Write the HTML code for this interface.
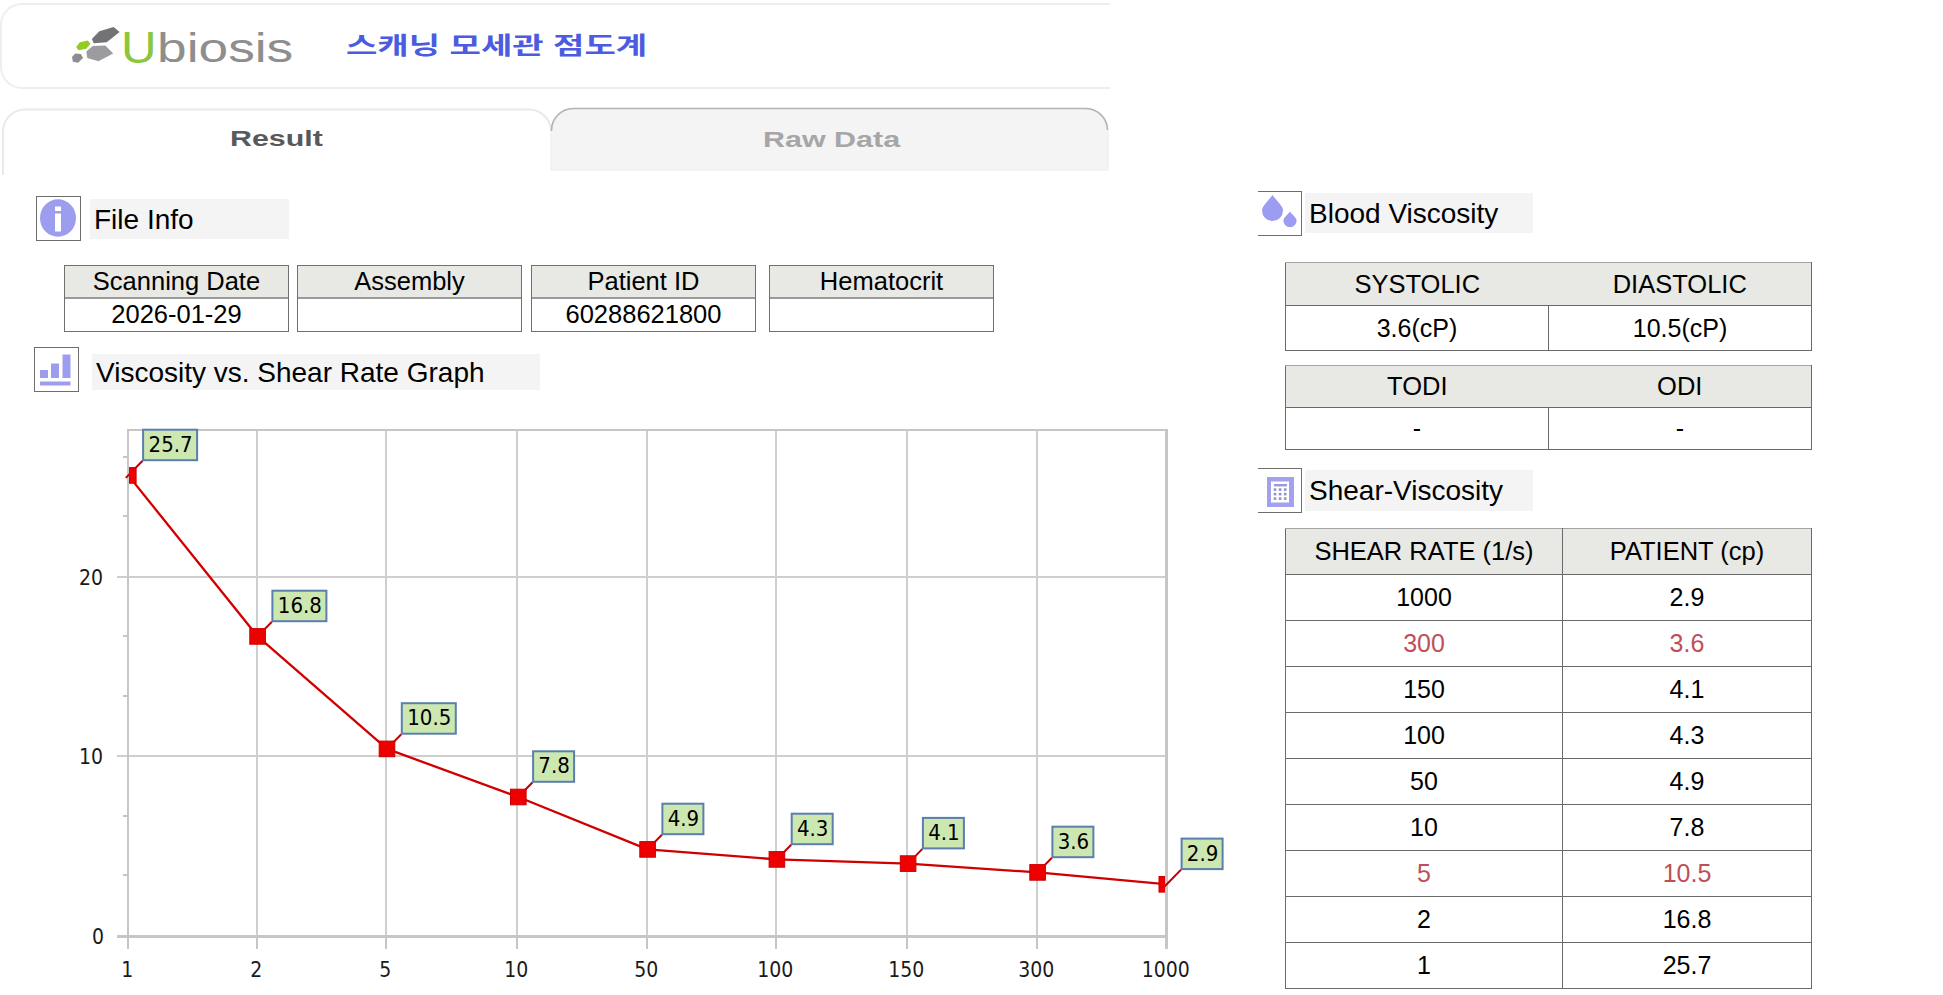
<!DOCTYPE html>
<html><head><meta charset="utf-8">
<style>
*{margin:0;padding:0;box-sizing:border-box}
html,body{width:1943px;height:995px;background:#fff;overflow:hidden}
body{position:relative;font-family:"Liberation Sans",Arial,sans-serif;color:#000}
.abs{position:absolute}
.hdrclip{position:absolute;left:0;top:0;width:1110px;height:175px;overflow:hidden}
.hbox{position:absolute;left:0;top:3px;width:1160px;height:86px;border:2px solid #eeeeee;border-radius:22px;background:#fff}
.tab1{position:absolute;left:3px;top:109px;width:549px;height:80px;border:2px solid #efefef;border-radius:22px 22px 0 0;background:#fff}
.tab2{position:absolute;left:551px;top:108px;width:557px;height:62px;border:2px solid #bdbdbd;border-bottom:none;border-radius:22px 22px 0 0;background:#f5f5f5}
.tab2fade{position:absolute;left:551px;top:126px;width:557px;height:46px;background:linear-gradient(to bottom,rgba(245,245,245,0),#f5f5f5 18px)}
.htxt{position:absolute;white-space:nowrap;transform-origin:0 0}
.ibox{position:absolute;width:45px;height:45px;border:1px solid #6e6e6e;background:transparent}
.lbl{position:absolute;background:#f4f4f4;font-size:28px;white-space:nowrap}
.lbl span{position:absolute;left:5px}
.ft{position:absolute;top:265px;height:67px;width:225px;border:1px solid #707070;font-size:25.5px;text-align:center}
.ft .h{height:33px;background:#e8e8e4;border-bottom:2px solid #9a9a9a;line-height:30px}
.ft .d{height:32px;line-height:31px}
table{border-collapse:collapse;position:absolute;font-size:25px;table-layout:fixed}
td{text-align:center;border:1px solid #6a6a6a;padding:0;white-space:nowrap}
th{font-size:25.5px;font-weight:400;background:#e8e8e4;border:1px solid #6a6a6a;border-top-color:#a5a5a5;padding:0}
.red{color:#be4f58}
.nd th:first-child{border-right:none}.nd th:last-child{border-left:none}
.ax{font-family:"DejaVu Sans",sans-serif;font-stretch:condensed;font-size:21px;fill:#1a1a1a}
.dl{font-family:"DejaVu Sans",sans-serif;font-stretch:condensed;font-size:22px;fill:#000}
</style></head><body>

<!-- HEADER -->
<div class="hdrclip">
  <div class="hbox"></div>
  <svg class="abs" style="left:0;top:0" width="1110" height="175" viewBox="0 0 1110 175">
    <polygon points="91.9,39.1 99.3,31.2 113.6,27.1 119.6,31.9 106.7,42.3 93.7,43.3" fill="#737377"/>
    <polygon points="86.3,51.6 92.8,46 105.3,45.6 113.2,53.4 98.4,61.3 87.3,58.1" fill="#9c9ca0"/>
    <polygon points="76.2,47 79.9,42.3 87.7,40.5 90.5,43.7 86.3,48.8 78.5,50.2" fill="#93cb24"/>
    <polygon points="72,57.1 75.2,53.4 80.8,53.9 83.1,58.1 78,62.7 72.9,61.8" fill="#8d8d90"/>
    <path d="M3,176 L3,131 A22,22 0 0 1 25,109.5 L529,109.5 A22,22 0 0 1 551,131" fill="#fff" stroke="#e9e9e9" stroke-width="2"/>
    <path d="M551,170 L551,130 A22,22 0 0 1 573,108.5 L1086,108.5 A22,22 0 0 1 1108,130 L1108,170 Z" fill="#f4f4f4" stroke="#ececec" stroke-width="1"/>
    <path d="M551.5,131 A22,22 0 0 1 573,108.5 L1086,108.5 A22,22 0 0 1 1107.5,130" fill="none" stroke="#b3b3b3" stroke-width="1.6"/>
  </svg>
  <div class="htxt" style="left:121px;top:22.5px;font-size:44px;color:#8cc63f;line-height:50px;transform:scaleX(1.12)">U</div>
  <div class="htxt" style="left:157px;top:24px;font-size:41px;color:#8e8e8e;line-height:48px;transform:scaleX(1.30)">biosis</div>
  <div class="htxt" style="left:346px;top:26px;font-size:24px;font-weight:700;color:#4b5ce0;font-family:'Liberation Sans','Noto Sans CJK KR',sans-serif;transform:scaleX(1.42);line-height:40px">스캐닝 모세관 점도계</div>
  <div class="htxt" style="left:230px;top:126px;font-size:22px;font-weight:700;color:#595959;transform:scaleX(1.38)">Result</div>
  <div class="htxt" style="left:763px;top:126.5px;font-size:22px;font-weight:700;color:#a6a6a6;transform:scaleX(1.385)">Raw Data</div>
</div>

<!-- FILE INFO -->
<div class="ibox" style="left:36px;top:196px">
  <svg width="43" height="43" viewBox="0 0 43 43" style="position:absolute;left:0;top:0">
    <ellipse cx="21" cy="21" rx="18" ry="18.8" fill="#9d9df0"/>
    <rect x="18" y="9.5" width="6" height="4.5" fill="#fff"/>
    <rect x="18" y="16.5" width="6" height="18" fill="#fff"/>
  </svg>
</div>
<div class="lbl" style="left:90px;top:199px;width:199px;height:40px"><span style="top:5px;left:4px">File Info</span></div>

<div class="ft" style="left:64px"><div class="h">Scanning Date</div><div class="d">2026-01-29</div></div>
<div class="ft" style="left:297px"><div class="h">Assembly</div><div class="d"></div></div>
<div class="ft" style="left:531px"><div class="h">Patient ID</div><div class="d">60288621800</div></div>
<div class="ft" style="left:769px"><div class="h">Hematocrit</div><div class="d"></div></div>

<!-- GRAPH TITLE -->
<div class="ibox" style="left:34px;top:347px">
  <svg width="43" height="43" viewBox="0 0 43 43" style="position:absolute;left:0;top:0">
    <rect x="5" y="22" width="8" height="8" fill="#9d9df0"/>
    <rect x="16" y="15.5" width="8" height="14.5" fill="#9d9df0"/>
    <rect x="27.5" y="6.5" width="8" height="23.5" fill="#9d9df0"/>
    <rect x="5" y="33.5" width="30.5" height="4" fill="#9d9df0"/>
  </svg>
</div>
<div class="lbl" style="left:92px;top:354px;width:448px;height:36px"><span style="top:3px;left:4px">Viscosity vs. Shear Rate Graph</span></div>

<!-- CHART -->
<div id="chart"><svg class="abs" style="left:0;top:0" width="1943" height="995" viewBox="0 0 1943 995">
<defs><clipPath id="pa"><rect x="129" y="431" width="1036" height="504"/></clipPath></defs>
<rect x="256" y="429" width="2" height="507" fill="#cfcfcf"/>
<rect x="385" y="429" width="2" height="507" fill="#cfcfcf"/>
<rect x="516" y="429" width="2" height="507" fill="#cfcfcf"/>
<rect x="646" y="429" width="2" height="507" fill="#cfcfcf"/>
<rect x="775" y="429" width="2" height="507" fill="#cfcfcf"/>
<rect x="906" y="429" width="2" height="507" fill="#cfcfcf"/>
<rect x="1036" y="429" width="2" height="507" fill="#cfcfcf"/>
<rect x="117" y="576" width="1049" height="2" fill="#cfcfcf"/>
<rect x="117" y="755" width="1049" height="2" fill="#cfcfcf"/>
<rect x="127" y="429" width="1040" height="2" fill="#c6c6c6"/>
<rect x="1165" y="429" width="3" height="520" fill="#c6c6c6"/>
<rect x="127" y="429" width="2" height="520" fill="#c6c6c6"/>
<rect x="117" y="935" width="1051" height="3" fill="#c6c6c6"/>
<rect x="127" y="935" width="2" height="14" fill="#c6c6c6"/>
<rect x="256" y="935" width="2" height="14" fill="#c6c6c6"/>
<rect x="385" y="935" width="2" height="14" fill="#c6c6c6"/>
<rect x="516" y="935" width="2" height="14" fill="#c6c6c6"/>
<rect x="646" y="935" width="2" height="14" fill="#c6c6c6"/>
<rect x="775" y="935" width="2" height="14" fill="#c6c6c6"/>
<rect x="906" y="935" width="2" height="14" fill="#c6c6c6"/>
<rect x="1036" y="935" width="2" height="14" fill="#c6c6c6"/>
<rect x="123" y="456" width="5" height="2" fill="#c6c6c6"/>
<rect x="123" y="515" width="5" height="2" fill="#c6c6c6"/>
<rect x="123" y="635" width="5" height="2" fill="#c6c6c6"/>
<rect x="123" y="695" width="5" height="2" fill="#c6c6c6"/>
<rect x="123" y="815" width="5" height="2" fill="#c6c6c6"/>
<rect x="123" y="874" width="5" height="2" fill="#c6c6c6"/>
<text x="104" y="944.0" text-anchor="end" class="ax">0</text>
<text x="103" y="763.5" text-anchor="end" class="ax">10</text>
<text x="103" y="584.5" text-anchor="end" class="ax">20</text>
<text x="127.2" y="977" text-anchor="middle" class="ax">1</text>
<text x="256.2" y="977" text-anchor="middle" class="ax">2</text>
<text x="385.2" y="977" text-anchor="middle" class="ax">5</text>
<text x="516.2" y="977" text-anchor="middle" class="ax">10</text>
<text x="646.2" y="977" text-anchor="middle" class="ax">50</text>
<text x="775.2" y="977" text-anchor="middle" class="ax">100</text>
<text x="906.2" y="977" text-anchor="middle" class="ax">150</text>
<text x="1036.2" y="977" text-anchor="middle" class="ax">300</text>
<text x="1165.7" y="977" text-anchor="middle" class="ax">1000</text>
<polyline points="128.3,475.4 257.6,636.4 387.0,748.9 518.3,797.0 647.6,849.4 776.9,859.4 908.1,863.6 1037.6,872.4 1166.8,884.3" fill="none" stroke="#d00000" stroke-width="2.3" stroke-linejoin="round" clip-path="url(#pa)"/>
<line x1="125.8" y1="477.9" x2="142.6" y2="460.7" stroke="#c00000" stroke-width="2"/>
<line x1="255.1" y1="638.9" x2="271.9" y2="621.7" stroke="#c00000" stroke-width="2"/>
<line x1="384.5" y1="751.4" x2="401.3" y2="734.2" stroke="#c00000" stroke-width="2"/>
<line x1="515.8" y1="799.5" x2="532.6" y2="782.3" stroke="#c00000" stroke-width="2"/>
<line x1="645.1" y1="851.9" x2="661.9" y2="834.7" stroke="#c00000" stroke-width="2"/>
<line x1="774.4" y1="861.9" x2="791.2" y2="844.7" stroke="#c00000" stroke-width="2"/>
<line x1="905.6" y1="866.1" x2="922.4" y2="848.9" stroke="#c00000" stroke-width="2"/>
<line x1="1035.1" y1="874.9" x2="1051.9" y2="857.7" stroke="#c00000" stroke-width="2"/>
<line x1="1164.3" y1="886.8" x2="1181.1" y2="869.6" stroke="#c00000" stroke-width="2"/>
<g clip-path="url(#pa)">
<rect x="120.5" y="467.6" width="15.6" height="15.6" fill="#ee0000" stroke="#c80000" stroke-width="1"/>
<rect x="249.8" y="628.6" width="15.6" height="15.6" fill="#ee0000" stroke="#c80000" stroke-width="1"/>
<rect x="379.2" y="741.1" width="15.6" height="15.6" fill="#ee0000" stroke="#c80000" stroke-width="1"/>
<rect x="510.5" y="789.2" width="15.6" height="15.6" fill="#ee0000" stroke="#c80000" stroke-width="1"/>
<rect x="639.8" y="841.6" width="15.6" height="15.6" fill="#ee0000" stroke="#c80000" stroke-width="1"/>
<rect x="769.1" y="851.6" width="15.6" height="15.6" fill="#ee0000" stroke="#c80000" stroke-width="1"/>
<rect x="900.3" y="855.8" width="15.6" height="15.6" fill="#ee0000" stroke="#c80000" stroke-width="1"/>
<rect x="1029.8" y="864.6" width="15.6" height="15.6" fill="#ee0000" stroke="#c80000" stroke-width="1"/>
<rect x="1159.0" y="876.5" width="15.6" height="15.6" fill="#ee0000" stroke="#c80000" stroke-width="1"/>
</g>
<rect x="143.1" y="429.7" width="54" height="30.5" fill="#cde7b1" stroke="#5a7fae" stroke-width="2"/>
<text x="170.6" y="451.7" text-anchor="middle" class="dl">25.7</text>
<rect x="272.4" y="590.7" width="54" height="30.5" fill="#cde7b1" stroke="#5a7fae" stroke-width="2"/>
<text x="299.9" y="612.7" text-anchor="middle" class="dl">16.8</text>
<rect x="401.8" y="703.2" width="54" height="30.5" fill="#cde7b1" stroke="#5a7fae" stroke-width="2"/>
<text x="429.3" y="725.2" text-anchor="middle" class="dl">10.5</text>
<rect x="533.1" y="751.3" width="41" height="30.5" fill="#cde7b1" stroke="#5a7fae" stroke-width="2"/>
<text x="554.1" y="773.3" text-anchor="middle" class="dl">7.8</text>
<rect x="662.4" y="803.7" width="41" height="30.5" fill="#cde7b1" stroke="#5a7fae" stroke-width="2"/>
<text x="683.4" y="825.7" text-anchor="middle" class="dl">4.9</text>
<rect x="791.7" y="813.7" width="41" height="30.5" fill="#cde7b1" stroke="#5a7fae" stroke-width="2"/>
<text x="812.7" y="835.7" text-anchor="middle" class="dl">4.3</text>
<rect x="922.9" y="817.9" width="41" height="30.5" fill="#cde7b1" stroke="#5a7fae" stroke-width="2"/>
<text x="943.9" y="839.9" text-anchor="middle" class="dl">4.1</text>
<rect x="1052.4" y="826.7" width="41" height="30.5" fill="#cde7b1" stroke="#5a7fae" stroke-width="2"/>
<text x="1073.4" y="848.7" text-anchor="middle" class="dl">3.6</text>
<rect x="1181.6" y="838.6" width="41" height="30.5" fill="#cde7b1" stroke="#5a7fae" stroke-width="2"/>
<text x="1202.6" y="860.6" text-anchor="middle" class="dl">2.9</text>
</svg></div>

<!-- RIGHT PANEL -->
<svg class="abs" style="left:0;top:0" width="1943" height="995" viewBox="0 0 1943 995">
<path d="M1272.5,195 C1276.17,200.43 1283.0,205.78 1283.0,210.5 A10.5,10.5 0 0 1 1262.0,210.5 C1262.0,205.78 1268.83,200.43 1272.5,195 Z" fill="#9b9cf2"/>
<path d="M1290,211.5 C1292.31,214.72 1296.6,217.73 1296.6,220.7 A6.6,6.6 0 0 1 1283.4,220.7 C1283.4,217.73 1287.69,214.72 1290,211.5 Z" fill="#9b9cf2"/>
<rect x="1267" y="477" width="27" height="30" fill="#a1a1f0"/>
<rect x="1271" y="481.5" width="18" height="21" fill="#fff"/>
<rect x="1274" y="484" width="13" height="2.4" fill="#9a9ad8"/>
<rect x="1273.7" y="488.3" width="2.6" height="2.6" fill="#9191cf"/><rect x="1273.7" y="492.8" width="2.6" height="2.6" fill="#9191cf"/><rect x="1273.7" y="497.3" width="2.6" height="2.6" fill="#9191cf"/><rect x="1278.8" y="488.3" width="2.6" height="2.6" fill="#9191cf"/><rect x="1278.8" y="492.8" width="2.6" height="2.6" fill="#9191cf"/><rect x="1278.8" y="497.3" width="2.6" height="2.6" fill="#9191cf"/><rect x="1283.9" y="488.3" width="2.6" height="2.6" fill="#9191cf"/><rect x="1283.9" y="492.8" width="2.6" height="2.6" fill="#9191cf"/><rect x="1283.9" y="497.3" width="2.6" height="2.6" fill="#9191cf"/>
</svg>

<div class="ibox" style="left:1258px;top:191px;width:44px;border-left:none">
</div>
<div class="lbl" style="left:1305px;top:193px;width:228px;height:40px"><span style="top:5px;left:4px">Blood Viscosity</span></div>

<div class="ibox" style="left:1258px;top:468px;width:44px;border-left:none">
</div>
<div class="lbl" style="left:1305px;top:470px;width:228px;height:41px"><span style="top:5px;left:4px">Shear-Viscosity</span></div>


<table class="nd" style="left:1285px;top:262px;width:526px">
<colgroup><col style="width:263px"><col style="width:263px"></colgroup>
<tr style="height:43px"><th>SYSTOLIC</th><th>DIASTOLIC</th></tr>
<tr style="height:45px"><td>3.6(cP)</td><td>10.5(cP)</td></tr>
</table>
<table class="nd" style="left:1285px;top:365px;width:526px">
<colgroup><col style="width:263px"><col style="width:263px"></colgroup>
<tr style="height:42px"><th>TODI</th><th>ODI</th></tr>
<tr style="height:42px"><td>-</td><td>-</td></tr>
</table>
<table style="left:1285px;top:528px;width:526px">
<colgroup><col style="width:277px"><col style="width:249px"></colgroup>
<tr style="height:46px"><th>SHEAR RATE (1/s)</th><th>PATIENT (cp)</th></tr>
<tr style="height:46px"><td>1000</td><td>2.9</td></tr>
<tr style="height:46px" class="red"><td>300</td><td>3.6</td></tr>
<tr style="height:46px"><td>150</td><td>4.1</td></tr>
<tr style="height:46px"><td>100</td><td>4.3</td></tr>
<tr style="height:46px"><td>50</td><td>4.9</td></tr>
<tr style="height:46px"><td>10</td><td>7.8</td></tr>
<tr style="height:46px" class="red"><td>5</td><td>10.5</td></tr>
<tr style="height:46px"><td>2</td><td>16.8</td></tr>
<tr style="height:46px"><td>1</td><td>25.7</td></tr>
</table>
</body></html>
